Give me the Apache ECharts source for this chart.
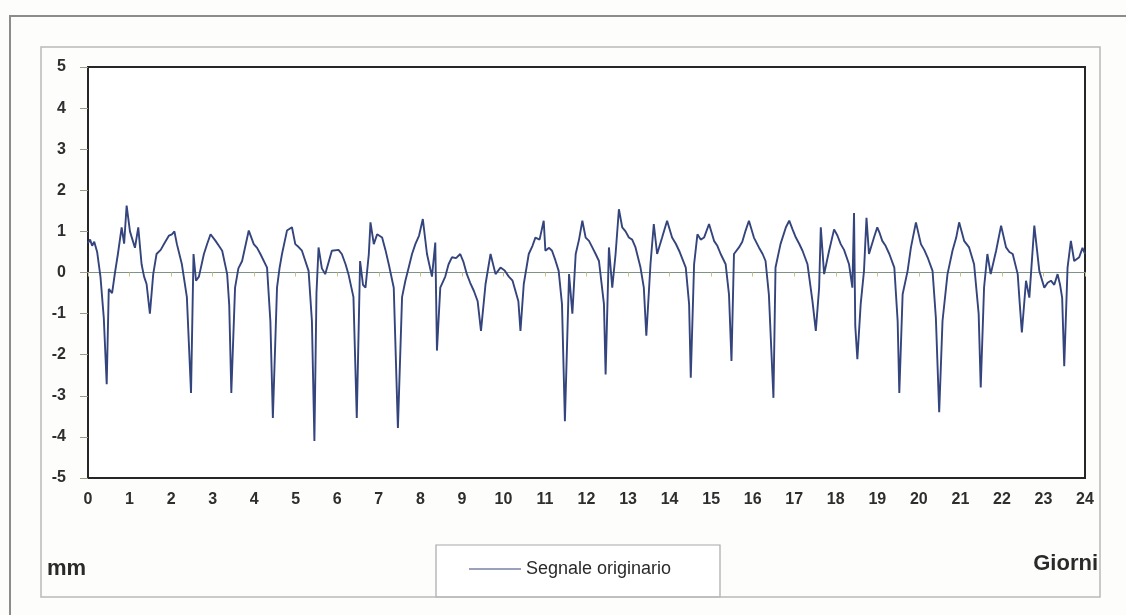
<!DOCTYPE html>
<html>
	<head>
		<meta charset="UTF-8">
		<title>Segnale originario</title>
		<script src="https://cdn.jsdelivr.net/npm/echarts@6/dist/echarts.min.js"></script>
		<style>
			html, body {
				margin: 0;
				padding: 0;
				background-color: #fdfdfc;
			}
			#main {
				width: 1126px;
				height: 615px;
			}
		</style>
	</head>
	<body>
		<div id="main"></div>
		<script type="text/javascript">
			// giorni (asse x) e spostamento in mm (asse y)
			var days = [
				0.00, 0.05, 0.10, 0.15, 0.22, 0.30, 0.38, 0.45, 0.50, 0.58, 0.65, 0.72, 0.81, 0.87, 0.93,
				1.01, 1.07, 1.13, 1.21, 1.29, 1.35, 1.41, 1.49, 1.57, 1.65, 1.75, 1.85, 1.95,
				2.02, 2.08, 2.14, 2.26, 2.38, 2.48, 2.54, 2.60, 2.67, 2.79, 2.87, 2.95,
				3.07, 3.15, 3.23, 3.35, 3.40, 3.45, 3.54, 3.62, 3.71, 3.80, 3.87, 3.99,
				4.07, 4.15, 4.31, 4.39, 4.45, 4.55, 4.61, 4.67, 4.79, 4.91, 4.99,
				5.07, 5.15, 5.31, 5.39, 5.45, 5.50, 5.55, 5.63, 5.71, 5.87,
				6.03, 6.11, 6.20, 6.27, 6.39, 6.47, 6.55, 6.62, 6.68, 6.76, 6.80, 6.88, 6.96,
				7.08, 7.16, 7.24, 7.36, 7.46, 7.56, 7.64, 7.72, 7.80, 7.88, 7.97,
				8.06, 8.16, 8.28, 8.36, 8.40, 8.48, 8.60, 8.68, 8.76, 8.86, 8.96,
				9.04, 9.12, 9.20, 9.29, 9.38, 9.46, 9.57, 9.69, 9.81, 9.93,
				10.03, 10.13, 10.22, 10.29, 10.36, 10.41, 10.49, 10.61, 10.70, 10.77, 10.87, 10.97,
				11.01, 11.10, 11.17, 11.25, 11.33, 11.41, 11.48, 11.58, 11.66, 11.74, 11.82, 11.90, 11.98,
				12.06, 12.14, 12.22, 12.30, 12.42, 12.46, 12.54, 12.62, 12.70, 12.78, 12.86, 12.94,
				13.02, 13.10, 13.18, 13.30, 13.38, 13.44, 13.54, 13.62, 13.70, 13.82, 13.94,
				14.06, 14.15, 14.23, 14.39, 14.47, 14.51, 14.59, 14.67, 14.75, 14.83, 14.95,
				15.07, 15.15, 15.23, 15.35, 15.43, 15.49, 15.55, 15.67, 15.75, 15.83, 15.91,
				16.03, 16.15, 16.24, 16.31, 16.39, 16.50, 16.55, 16.67, 16.80, 16.88, 16.96,
				17.04, 17.12, 17.20, 17.32, 17.44, 17.52, 17.60, 17.64, 17.72, 17.84, 17.96,
				18.04, 18.12, 18.20, 18.32, 18.40, 18.44, 18.47, 18.52, 18.60, 18.68, 18.74, 18.80, 18.92,
				19.00, 19.06, 19.12, 19.20, 19.29, 19.41, 19.49, 19.53, 19.61, 19.73, 19.81, 19.93,
				20.05, 20.13, 20.21, 20.33, 20.41, 20.49, 20.57, 20.69, 20.81, 20.90, 20.97,
				21.09, 21.21, 21.33, 21.44, 21.49, 21.57, 21.65, 21.73, 21.86, 21.98,
				22.10, 22.18, 22.26, 22.38, 22.43, 22.48, 22.58, 22.66, 22.78, 22.90,
				23.02, 23.10, 23.18, 23.26, 23.34, 23.40, 23.45, 23.50, 23.58, 23.66, 23.74, 23.86, 23.94,
				24.00
			];
			var segnale = [
				0.72, 0.80, 0.65, 0.75, 0.50, -0.10, -1.10, -2.72, -0.40, -0.50, 0.00, 0.45, 1.10, 0.70, 1.63,
				1.00, 0.80, 0.60, 1.10, 0.20, -0.10, -0.28, -1.00, -0.04, 0.45, 0.55, 0.73, 0.90,
				0.93, 1.00, 0.69, 0.20, -0.60, -2.93, 0.45, -0.20, -0.10, 0.45, 0.70, 0.93,
				0.77, 0.65, 0.53, -0.04, -0.80, -2.93, -0.37, 0.10, 0.28, 0.70, 1.02, 0.69,
				0.60, 0.45, 0.12, -1.18, -3.54, -0.37, 0.10, 0.45, 1.02, 1.10, 0.69,
				0.62, 0.53, 0.04, -1.18, -4.10, -0.50, 0.61, 0.10, -0.04, 0.53,
				0.55, 0.45, 0.20, -0.04, -0.60, -3.54, 0.28, -0.30, -0.37, 0.45, 1.22, 0.69, 0.93,
				0.85, 0.55, 0.20, -0.37, -3.78, -0.60, -0.20, 0.12, 0.45, 0.69, 0.90,
				1.30, 0.45, -0.10, 0.73, -1.90, -0.37, -0.10, 0.20, 0.37, 0.35, 0.45,
				0.25, -0.04, -0.25, -0.45, -0.70, -1.42, -0.28, 0.45, -0.04, 0.12,
				0.05, -0.10, -0.20, -0.45, -0.70, -1.42, -0.28, 0.45, 0.65, 0.85, 0.80, 1.26,
				0.53, 0.60, 0.53, 0.30, 0.04, -0.77, -3.62, -0.04, -1.00, 0.45, 0.80, 1.26, 0.85,
				0.77, 0.61, 0.45, 0.28, -0.77, -2.48, 0.61, -0.37, 0.45, 1.54, 1.10, 1.00,
				0.85, 0.80, 0.61, 0.12, -0.37, -1.54, 0.20, 1.18, 0.45, 0.85, 1.26,
				0.85, 0.70, 0.53, 0.12, -0.77, -2.56, 0.20, 0.93, 0.80, 0.85, 1.18,
				0.77, 0.65, 0.45, 0.20, -0.53, -2.15, 0.45, 0.61, 0.75, 1.02, 1.26,
				0.85, 0.61, 0.45, 0.28, -0.53, -3.05, 0.12, 0.69, 1.10, 1.26, 1.05,
				0.85, 0.70, 0.53, 0.20, -0.70, -1.42, -0.37, 1.10, -0.04, 0.53, 1.05,
				0.90, 0.69, 0.55, 0.20, -0.37, 1.45, -1.30, -2.11, -0.77, 0.04, 1.33, 0.45, 0.85,
				1.10, 0.95, 0.77, 0.65, 0.45, 0.12, -1.18, -2.93, -0.53, 0.04, 0.61, 1.22,
				0.69, 0.55, 0.37, 0.04, -1.10, -3.40, -1.18, -0.04, 0.53, 0.85, 1.22,
				0.77, 0.61, 0.20, -1.00, -2.80, -0.37, 0.45, -0.04, 0.53, 1.14,
				0.61, 0.50, 0.45, -0.04, -0.77, -1.46, -0.20, -0.61, 1.14, 0.04,
				-0.37, -0.25, -0.20, -0.30, -0.04, -0.30, -0.61, -2.28, 0.12, 0.77, 0.28, 0.37, 0.60,
				0.45
			];
			var tickDays = [0, 1, 2, 3, 4, 5, 6, 7, 8, 9, 10, 11, 12, 13, 14, 15, 16, 17, 18, 19, 20, 21, 22, 23, 24];
			var serieNome = 'Segnale originario';

			var punti = [];
			for (var i = 0; i < days.length; i++) {
				punti.push([days[i], segnale[i]]);
			}

			var font = "'Liberation Sans', Arial, sans-serif";
			var myChart = echarts.init(document.getElementById('main'));

			var option = {
				backgroundColor: '#fdfdfc',
				animation: false,
				grid: {
					left: 88,
					right: 41,
					top: 67,
					bottom: 137,
					show: true,
					borderColor: '#262626',
					borderWidth: 2,
					backgroundColor: '#ffffff'
				},
				legend: {
					data: [serieNome],
					left: 464,
					top: 555,
					icon: 'rect',
					itemWidth: 52,
					itemHeight: 1,
					itemGap: 8,
					textStyle: {
						fontFamily: font,
						fontSize: 18,
						color: '#2a2a2a'
					}
				},
				xAxis: [{
					type: 'value',
					min: 0,
					max: 24,
					interval: 1,
					position: 'bottom',
					axisLine: { show: false, onZero: false },
					axisTick: { show: false },
					splitLine: { show: false },
					axisLabel: {
						margin: 14,
						fontFamily: font,
						fontSize: 16,
						fontWeight: 'bold',
						color: '#2e2e2e',
						formatter: function(v) {
							return tickDays.indexOf(v) >= 0 ? String(v) : '';
						}
					}
				}, {
					type: 'value',
					min: 0,
					max: 24,
					interval: 1,
					position: 'top',
					axisLine: {
						show: true,
						onZero: true,
						lineStyle: { color: '#7f9486', width: 1.2 }
					},
					axisTick: {
						show: true,
						inside: true,
						length: 4,
						lineStyle: { color: '#c9c08a' }
					},
					axisLabel: { show: false },
					splitLine: { show: false }
				}],
				yAxis: {
					type: 'value',
					min: -5,
					max: 5,
					interval: 1,
					axisLine: { show: false, onZero: false },
					axisTick: {
						show: true,
						length: 8,
						lineStyle: { color: '#9a9a8a' }
					},
					splitLine: { show: false },
					axisLabel: {
						margin: 22,
						fontFamily: font,
						fontSize: 16,
						fontWeight: 'bold',
						color: '#2e2e2e'
					}
				},
				series: [{
					name: serieNome,
					type: 'line',
					xAxisIndex: 0,
					data: punti,
					symbol: 'none',
					lineStyle: {
						color: '#34447c',
						width: 1.9
					},
					itemStyle: { color: '#34447c' },
					z: 3
				}],
				graphic: [{
					type: 'rect',
					shape: { x: 10, y: 16, width: 1140, height: 620 },
					style: { fill: 'none', stroke: '#8c8c8c', lineWidth: 2 },
					silent: true
				}, {
					type: 'rect',
					shape: { x: 41, y: 47, width: 1059, height: 550 },
					style: { fill: 'none', stroke: '#b9b9b9', lineWidth: 1.5 },
					silent: true
				}, {
					type: 'rect',
					shape: { x: 436, y: 545, width: 284, height: 52 },
					style: { fill: '#ffffff', stroke: '#a8a8a8', lineWidth: 1.2 },
					z: -1,
					silent: true
				}, {
					type: 'text',
					left: 47,
					top: 558,
					style: {
						text: 'mm',
						fontFamily: font,
						fontSize: 22,
						fontWeight: 'bold',
						fill: '#2a2a2a'
					}
				}, {
					type: 'text',
					right: 28,
					top: 553,
					style: {
						text: 'Giorni',
						fontFamily: font,
						fontSize: 22,
						fontWeight: 'bold',
						fill: '#2a2a2a'
					}
				}]
			};

			myChart.setOption(option);
		</script>
	</body>
</html>
